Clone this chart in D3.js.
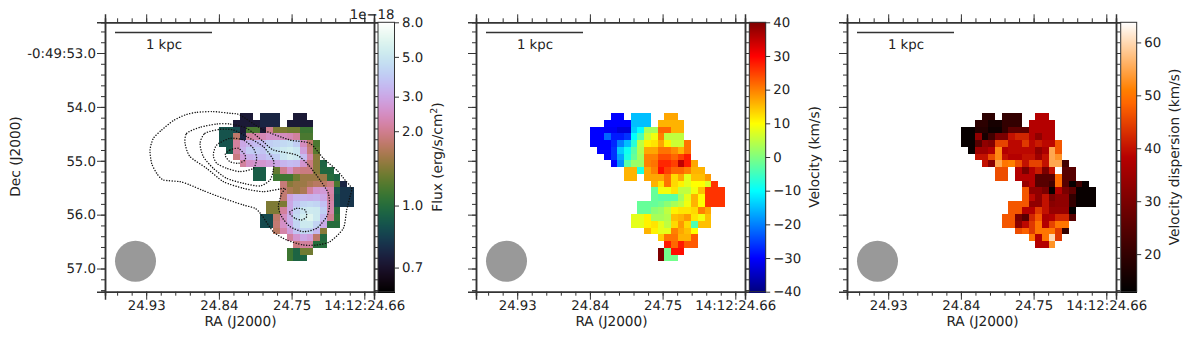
<!DOCTYPE html>
<html>
<head>
<meta charset="utf-8">
<script src="https://cdn.jsdelivr.net/npm/d3@7"></script>
<style>
  html, body { margin: 0; padding: 0; background: #fff; }
  text { font-family: "DejaVu Sans", sans-serif; font-size: 13.3px; fill: #222; text-rendering: geometricPrecision; }
  .axis path, .axis line { stroke: #333; }
  .axis text { fill: #222; font-size: 13.3px; }
  .title { font-size: 13.7px; }
</style>
</head>
<body>
<div id="chart"></div>
<script>
const _ = null;

// each row: first column index of the map, then the pixel values (top row first)
const fluxRows = [
  [20,.72,.72,_,.75,.75,.75,_,_,.72,.72],
  [19,.72,.72,.72,.72,.75,.75,.75,_,.72,.72,.72,.72],
  [17,.88,.88,.85,.72,1.15,1.15,.72,2.0,1.35,1.35,1.3,1.3,1.1,1.1],
  [17,.88,.88,1.75,.75,2.1,2.2,2.3,2.5,2.5,2.4,2.3,2.1,1.15,1.15],
  [17,.88,.88,2.1,3.0,3.3,3.5,3.5,4,4.2,4.4,4.6,4,2.4,1.75,1.15],
  [18,.9,2.1,3.2,3.9,3.9,3.7,4.5,4.7,5.2,5.5,5,2.8,1.85,1.2],
  [19,1.9,2.8,3.2,3.4,3.4,3.7,4,5,5.6,5.2,3.5,2.2,1.4],
  [20,2.1,2.5,2.6,2.6,2.8,3,3.3,3.5,3.4,2.6,1.9,1.4,.95],
  [22,.92,.92,_,1.25,2,2.5,2,1.9,1.9,1.4,.97,.97],
  [22,.92,.92,_,1.1,1.1,1.1,1.3,1.5,1.5,1.5,1.5,1.0,.95],
  [26,1.85,1.4,1.5,1.5,1.6,1.7,1.7,1.9,1.15,.75],
  [26,1.8,1.6,1.5,1.6,2.1,2.6,2.7,2.2,.88,.79,.79],
  [26,1.8,2.9,3.3,3.3,3.2,3.3,3,2.1,.85,.79,.79],
  [24,1.35,1.35,1.35,3,3.7,4.2,4.4,4.2,3.6,2.2,.85,.79,.79],
  [24,1.35,1.35,2.1,3,4.2,5,5.3,5.2,4,2.2,1],
  [23,.85,.85,1.75,2.4,3.2,4.5,5.5,6.2,5.2,3.5,2,1.05],
  [23,.85,.85,1.8,2.5,3.1,4.2,5.2,5.2,4.2,3.1,1,1],
  [25,1.7,2.2,2.8,3.7,4.3,4.2,3.4,1.4],
  [27,2.1,2.6,3,2.8,1.75,.98],
  [28,1.9,2.1,2.1,1,1],
  [27,1.1,.95,1.3,1.3],
  [27,1.1,.95,.95]
];

const velocityRows = [
  [20,-30,-30,_,-15,-15,-15,_,_,17,17],
  [19,-30,-30,-30,-30,-15,-15,-15,_,16,16,16,16],
  [17,-30,-30,-31,-31,-33,-33,-14,-10,3,3,22,22,16,16],
  [17,-30,-30,-22,-28,-28,-26,-10,-4,6,9,20,5,5,5],
  [17,-30,-30,-30,-27,-20,-15,-7,5,11,12,17,11,6,6,21],
  [18,-30,-30,-26,-14,-9,-3,4,17,17,21,21,19,16,21],
  [19,-30,-26,-17,-8,-2,3,20,20,24,24,22,25,28],
  [20,-30,-19,-3,2,2,20,21,27,27,25,35,28,17],
  [22,16,16,-8,17,20,29,25,22,22,20,16,16],
  [22,16,16,_,17,17,17,21,13,17,8,15,15,18],
  [26,16,12,21,13,11,8,10,10,7,26],
  [26,-2,9,9,12,5,5,9,15,26,26,26],
  [26,-2,-3,-3,-3,3,8,16,10,26,26,26],
  [24,-2,-2,-2,-1,1,3,5,9,16,10,26,26,26],
  [24,-2,-2,1,2,5,11,12,12,13,20,17],
  [23,8,8,11,3,3,4,15,16,18,12,9,15],
  [23,8,8,11,12,8,5,13,18,13,-4,15,15],
  [25,16,11,8,8,20,17,15,10],
  [27,14,21,21,16,16,23],
  [28,28,22,28,23,23],
  [27,40,-1,29,29],
  [27,40,-1,-1]
];

const dispersionRows = [
  [20,19,19,_,20,20,20,_,_,38,38],
  [19,19,19,16,16,20,20,20,_,38,38,38,38],
  [17,14,14,18,18,15,15,20,26,26,26,38,38,38,38],
  [17,14,14,33,16,22,30,30,40,42,42,38,33,38,38],
  [17,14,14,25,33,31,45,45,39,39,44,39,41,39,39,47],
  [18,14,35,35,38,52,38,39,39,39,39,33,37,55,47],
  [19,40,40,46,52,40,38,38,40,40,35,40,55,53],
  [20,40,32,55,50,51,46,40,45,45,40,55,55,22],
  [22,46,46,_,38,30,38,41,30,40,64,25,25],
  [22,46,46,_,38,38,38,25,25,25,49,25,25],
  [26,34,38,25,25,22,49,25,14,22,14],
  [26,47,33,33,30,14,38,30,26,14,14,14],
  [26,47,39,33,40,30,33,33,20,14,14,14],
  [24,47,47,47,33,33,40,32,33,33,20,14,14,14],
  [24,47,47,38,38,44,40,34,34,34,13],
  [23,47,47,30,25,42,47,37,38,42,42,25],
  [23,47,47,32,39,44,50,38,45,50,50],
  [25,46,48,44,50,50,50,44,20],
  [27,50,38,50,60,44],
  [28,38,38,53]
];

// flux contours, in map pixels (column, row)
const contours = [
  [[20.07,.25],[18.59,0],[16.11,-.25],[13.63,-.15],[11.9,.25],[10.16,1.09],[8.43,2.48],[7.19,3.72],[6.69,5.45],[6.94,7.43],[7.69,8.92],[8.68,9.91],[11.15,10.16],[12.64,10.66],[14.62,11.5],[17.6,12.64],[20.57,13.63],[22.31,14.13],[23.3,15.12],[25.03,17.6],[27.02,18.84],[29.49,19.58],[31.48,19.58],[33.46,19.08],[35.44,17.1],[35.94,14.37],[36.43,12.39],[36.68,11.15],[35.69,9.91],[34.45,8.43],[32.47,6.69],[30.49,4.46],[27.51,3.97],[23.55,2.48]],
  [[11.9,4.46],[12.15,2.97],[14.13,2.08],[16.61,1.59],[18.59,1.59],[21.07,2.23],[23.55,4.21],[25.03,5.45],[28.5,6.2],[30.24,7.68],[31.97,9.91],[33.21,11.9],[33.36,13.88],[32.96,15.37],[31.48,17.1],[29.49,17.6],[27.51,16.85],[26.27,15.37],[25.78,13.88],[26.27,11.9],[26.77,11.15],[23.55,11.65],[20.57,11.15],[17.6,10.16],[15.12,8.18],[12.64,6.44]],
  [[14.13,4.46],[14.87,2.97],[17.1,2.38],[19.09,2.48],[21.07,3.47],[23.55,4.96],[25.03,6.94],[25.03,8.43],[24.54,9.91],[23.05,10.81],[20.57,10.41],[18.09,9.67],[16.11,8.18],[14.62,6.44]],
  [[16.11,6.2],[16.61,4.71],[18.59,3.72],[20.57,3.97],[22.06,5.2],[22.55,6.69],[22.06,8.18],[20.07,8.67],[18.09,8.18],[16.61,7.43]],
  [[17.85,6.2],[18.59,5.45],[19.83,5.2],[20.82,6.2],[20.82,6.94],[19.83,7.43],[18.59,7.19]],
  [[27.41,14.77],[28.5,14.13],[29.74,14.37],[29.99,15.37],[29.25,15.86],[28.25,15.61]]
];

const raMajor = [24.93, 24.84, 24.75, 24.66];
const raLabels = ["24.93", "24.84", "24.75", "14:12:24.66"];
const decMajor = [53, 54, 55, 56, 57];
const decLabels = ["-0:49:53.0", "54.0", "55.0", "56.0", "57.0"];
const fluxTicks = [0.7, 1, 2, 3, 5, 8];
const velocityTicks = [-40, -30, -20, -10, 0, 10, 20, 30, 40];
const dispersionTicks = [20, 30, 40, 50, 60];

const W = 1200, H = 339;
const plotTop = 22.3, plotBottom = 291.7, panelW = 269;
const panelLeft = [105, 476, 847];

const svg = d3.select("#chart").append("svg")
  .attr("width", W).attr("height", H).style("display", "block");

// Colour maps
const jet = d3.scaleLinear()
  .domain([0, .11, .125, .375, .625, .875, 1])
  .range(["#00007f", "#0000f0", "#0000ff", "#00ffff", "#ffff00", "#ff0000", "#7f0000"])
  .clamp(true);

const gistHeat = t => {
  const r = Math.min(1, t / 0.7), g = Math.max(0, 2 * t - 1), b = Math.max(0, 4 * t - 3);
  return d3.rgb(r * 255, g * 255, b * 255);
};

// flux stretch: log of (value - 0.5), runs from 0.64 to 8
const fluxPos = d3.scaleLog().domain([0.14, 7.5]).range([0, 1]);

const decY = d3.scaleLinear().domain([52.43, 57.43]).range([plotTop, plotBottom]);
const mapY = d3.scaleLinear().domain([0, 40]).range([113.3, 113.3 + panelW]);

function drawPanel(i, rows, colorOf) {
  const left = panelLeft[i];
  const g = svg.append("g");
  const raX = d3.scaleLinear().domain([24.981, 24.648]).range([left, left + panelW]);
  const mapX = d3.scaleLinear().domain([0, 40]).range([left, left + panelW]);

  // Map pixels
  rows.forEach((row, r) => {
    const col0 = row[0];
    row.slice(1).forEach((v, k) => {
      if (v === null) return;
      const c = col0 + k;
      g.append("rect")
        .attr("x", mapX(c))
        .attr("y", mapY(r))
        .attr("width", mapX(c + 1) - mapX(c))
        .attr("height", mapY(r + 1) - mapY(r))
        .attr("shape-rendering", "crispEdges")
        .attr("fill", colorOf(v));
    });
  });

  // Contours only on the flux map
  if (i === 0) {
    const line = d3.line()
      .x(d => mapX(d[0]))
      .y(d => mapY(d[1]))
      .curve(d3.curveCardinalClosed.tension(0.3));
    g.selectAll(".contour").data(contours).enter().append("path")
      .attr("class", "contour")
      .attr("d", line)
      .attr("fill", "none")
      .attr("stroke", "#111")
      .attr("stroke-width", 1.4)
      .attr("stroke-linecap", "round")
      .attr("stroke-dasharray", "0.1,2.6");
  }

  // Beam and scale bar
  g.append("circle")
    .attr("cx", left + 30.5).attr("cy", 261.2).attr("r", 20.5).attr("fill", "#999");
  g.append("line")
    .attr("x1", left + 10).attr("x2", left + 107)
    .attr("y1", 32.5).attr("y2", 32.5)
    .attr("stroke", "#333").attr("stroke-width", 1.4);
  g.append("text")
    .attr("x", left + 59).attr("y", 49).attr("text-anchor", "middle").text("1 kpc");

  // Axes, minor ticks every 0.018 s and 0.2 arcsec
  const raMinor = d3.range(0, 18).map(k => 24.66 + k * 0.018).filter(v => v < 24.981);
  const decMinor = d3.range(0, 25).map(k => 52.6 + k * 0.2).filter(v => v < 57.43);
  const minorOf = (gen, vals) => gen.tickValues(vals).tickSize(4).tickFormat("");
  const addAxis = (gen, tx, ty) => {
    const a = g.append("g").attr("class", "axis")
      .attr("transform", `translate(${tx},${ty})`).call(gen);
    a.select(".domain").attr("stroke-width", 1.5);
    return a;
  };

  addAxis(minorOf(d3.axisBottom(raX), raMinor), 0, plotBottom);
  addAxis(minorOf(d3.axisTop(raX), raMinor), 0, plotTop);
  addAxis(minorOf(d3.axisLeft(decY), decMinor), left, 0);
  addAxis(minorOf(d3.axisRight(decY), decMinor), left + panelW, 0);

  addAxis(d3.axisTop(raX).tickValues(raMajor).tickSize(8).tickFormat(""), 0, plotTop);
  addAxis(d3.axisRight(decY).tickValues(decMajor).tickSize(8).tickFormat(""), left + panelW, 0);
  addAxis(d3.axisBottom(raX).tickValues(raMajor).tickSize(8).tickPadding(1)
    .tickFormat((d, k) => raLabels[k]), 0, plotBottom);
  addAxis(d3.axisLeft(decY).tickValues(decMajor).tickSize(8).tickPadding(1)
    .tickFormat((d, k) => (i === 0 ? decLabels[k] : "")), left, 0);

  g.append("text").attr("class", "title")
    .attr("x", left + 135.5).attr("y", 326).attr("text-anchor", "middle").text("RA (J2000)");
}

function drawColorbar(left, width, scale, colorAt, ticks, fmt) {
  const g = svg.append("g");
  // one strip per screen pixel
  const strips = d3.range(plotTop, plotBottom, 1);
  g.selectAll("rect").data(strips).enter().append("rect")
    .attr("x", left)
    .attr("y", d => d)
    .attr("width", width)
    .attr("height", 1.2)
    .attr("shape-rendering", "crispEdges")
    .attr("fill", d => colorAt((plotBottom - d) / (plotBottom - plotTop)));
  g.append("rect")
    .attr("x", left).attr("y", plotTop)
    .attr("width", width).attr("height", plotBottom - plotTop)
    .attr("fill", "none").attr("stroke", "#333").attr("stroke-width", 1);
  const ax = g.append("g").attr("class", "axis")
    .attr("transform", `translate(${left + width},0)`)
    .call(d3.axisRight(scale).tickValues(ticks).tickSize(4.5).tickPadding(3).tickFormat(fmt));
  ax.select(".domain").remove();
}

drawPanel(0, fluxRows, v => d3.interpolateCubehelixDefault(fluxPos(v - 0.5)));

const velocityNorm = d3.scaleLinear().domain([-40, 40]).range([0, 1]);
drawPanel(1, velocityRows, v => jet(velocityNorm(v)));

const dispersionNorm = d3.scaleLinear().domain([12.9, 63.8]).range([0, 1]).clamp(true);
drawPanel(2, dispersionRows, v => gistHeat(dispersionNorm(v)));

// Colourbars; the flux bar is a log axis on (value - 0.5)
const fluxCbY = d3.scaleLog().domain([0.14, 7.5]).range([plotBottom, plotTop]);
drawColorbar(378, 16.5, fluxCbY, d3.interpolateCubehelixDefault,
  fluxTicks.map(v => v - 0.5), d => (d + 0.5).toFixed(1));

const velocityY = d3.scaleLinear().domain([-40, 40]).range([plotBottom, plotTop]);
drawColorbar(749.3, 16.4, velocityY, jet, velocityTicks, d => String(d).replace("-", "\u2212"));

const dispersionY = d3.scaleLinear().domain([12.9, 63.8]).range([plotBottom, plotTop]);
drawColorbar(1120.7, 16, dispersionY, gistHeat, dispersionTicks, d => d);

// Axis and colourbar titles
svg.append("text").attr("class", "title").attr("transform", "translate(19.5,156.5) rotate(-90)")
  .attr("text-anchor", "middle").text("Dec (J2000)");
svg.append("text").attr("x", 394.5).attr("y", 19).attr("text-anchor", "end").text("1e\u221218");

const fluxTitle = svg.append("text").attr("class", "title")
  .attr("transform", "translate(442,157) rotate(-90)")
  .attr("text-anchor", "middle");
fluxTitle.append("tspan").text("Flux (erg/s/cm");
fluxTitle.append("tspan").attr("dy", -5).style("font-size", "9.5px").text("2");
fluxTitle.append("tspan").attr("dy", 5).text(")");

svg.append("text").attr("class", "title").attr("transform", "translate(819,157) rotate(-90)")
  .attr("text-anchor", "middle").text("Velocity (km/s)");
svg.append("text").attr("class", "title").attr("transform", "translate(1179,157) rotate(-90)")
  .attr("text-anchor", "middle").text("Velocity dispersion (km/s)");
</script>
</body>
</html>
